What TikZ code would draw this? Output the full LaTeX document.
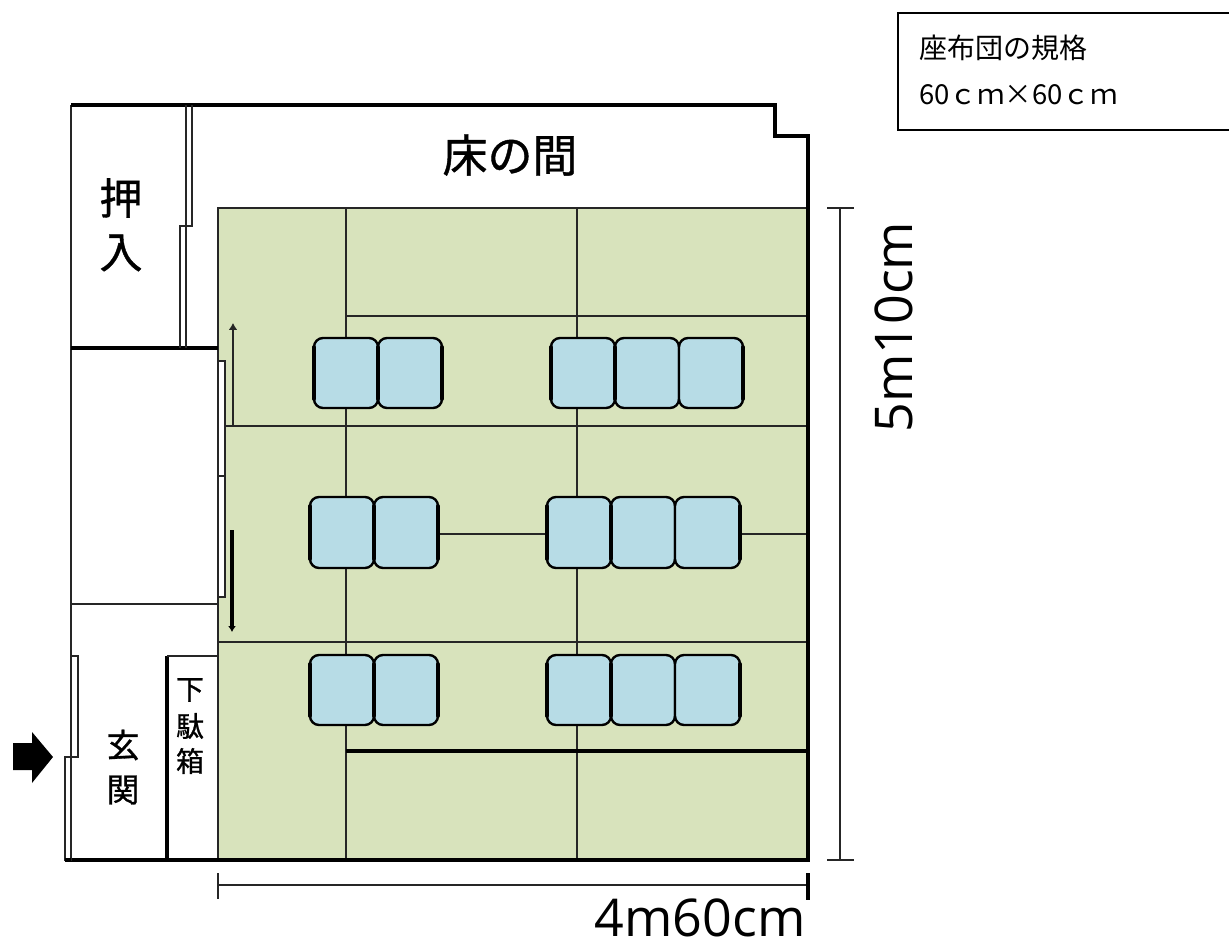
\documentclass[tikz,border=0pt]{standalone}
\usepackage{fontspec}
\setmainfont{Noto Sans CJK JP}
\newfontfamily\dimfont{Open Sans}
\newfontfamily\boldjp[FakeBold=0.9]{Noto Sans CJK JP}
\usetikzlibrary{arrows.meta}
\definecolor{mat}{HTML}{D8E3BC}
\definecolor{cushion}{HTML}{B7DCE6}
\definecolor{wall}{HTML}{262626}
\tikzset{
  x=1pt,y=-1pt,
  thin wall/.style={draw=wall,line width=2pt},
  heavy wall/.style={draw=black,line width=3.4pt},
  tatami/.style={draw=wall,line width=1.8pt},
  seat/.style={draw=black,fill=cushion,line width=2.4pt,rounded corners=9pt},
  seat edge/.style={draw=black,line width=3.6pt,line cap=round},
  dimline/.style={draw=wall,line width=1.7pt},
  room/.style={inner sep=0pt,font=\boldjp\fontsize{#1}{#1}\selectfont,text=black},
  legendtext/.style={inner sep=0pt,font=\fontsize{#1}{#1}\selectfont,text=black,anchor=base west},
  dimtext/.style={inner sep=0pt,font=\dimfont\fontsize{52}{52}\selectfont,text=black},
}
\newcommand{\seatrow}[3]{% y top, y bottom, list of left/right x
  \foreach \xa/\xb in {#3} {\draw[seat] (\xa,#1) rectangle (\xb,#2);}
}
\newcommand{\seatedges}[3]{% y top, y bottom, list of heavy vertical edges
  \foreach \xa in {#3} {\draw[seat edge] (\xa,#1+9) -- (\xa,#2-9);}
}
\begin{document}
\begin{tikzpicture}
\useasboundingbox (0,0) rectangle (1229,941);
% mat floor
\fill[mat] (218,208) rectangle (808,860);
\draw[thin wall] (808,208) -- (218,208) -- (218,860);
% tatami lines
\draw[tatami] (346,208) -- (346,860);
\draw[tatami] (577,208) -- (577,860);
\draw[tatami] (346,316) -- (808,316);
\draw[tatami] (224,426) -- (808,426);
\draw[tatami] (438,534) -- (808,534);
\draw[tatami] (218,642) -- (808,642);
\draw[heavy wall] (346,751) -- (808,751);
% outer walls
\draw[thin wall] (71,105) -- (71,860);
\draw[heavy wall] (71,105) -- (775,105) -- (775,136) -- (808,136) -- (808,860) -- (65,860);
\draw[heavy wall] (71,348) -- (218,348);
\draw[thin wall] (71,604) -- (218,604);
% closet door
\draw[thin wall] (186,105) -- (186,226);
\draw[thin wall] (192,105) -- (192,226) -- (179.5,226) -- (179.5,348);
\draw[thin wall] (186,226) -- (186,348);
% sliding door
\filldraw[fill=white,draw=wall,line width=2pt] (218,361) -- (224.5,361) -- (224.5,597) -- (218,597) -- cycle;
\draw[thin wall] (218,476) -- (224.5,476);
% entrance door
\filldraw[fill=white,draw=wall,line width=2pt] (71,656) -- (78,656) -- (78,757) -- (71,757) -- cycle;
\filldraw[fill=white,draw=wall,line width=2pt] (71,757) -- (64.5,757) -- (64.5,860) -- (71,860) -- cycle;
\draw[heavy wall] (71,860) -- (65,860);
% shoe box
\draw[heavy wall] (167,860) -- (167,656);
\draw[thin wall] (167,656) -- (218,656);
% door motion arrows
\coordinate (upA) at (233,426);
\coordinate (upB) at (233,323);
\coordinate (dnA) at (232,530);
\coordinate (dnB) at (232,632);
\draw[draw=wall,line width=1.8pt,-{Latex[length=7pt,width=9pt]}] (upA) -- (upB);
\draw[draw=black,line width=3.2pt,-{Latex[length=6pt,width=8pt]}] (dnA) -- (dnB);
% entrance arrow
\fill[black] (13,743) -- (32,743) -- (32,732) -- (53,757) -- (32,783) -- (32,770) -- (13,770) -- cycle;
% cushions
\seatrow{338}{408}{314/378,378/442,551/615,615/679,679/743}
\seatrow{497}{568}{310/374,374/438,547/611,611/675,675/740}
\seatrow{655}{725}{310/374,374/438,547/611,611/675,675/740}
\seatedges{338}{408}{314,378,442,551,615,743}
\seatedges{497}{568}{310,374,438,547,611,740}
\seatedges{655}{725}{310,374,438,547,611,740}
% dimensions
\draw[dimline] (840,208) -- (840,860);
\draw[dimline] (827,208) -- (854,208);
\draw[dimline] (827,860) -- (854,860);
\draw[dimline] (218,885) -- (808,885);
\draw[dimline] (218,873) -- (218,899);
\draw[heavy wall] (808,873) -- (808,900);
% legend
\draw[draw=black,line width=2.2pt] (1240,13) -- (898,13) -- (898,130) -- (1240,130);
% labels
\node[room=45,anchor=center] (toko) at (510,155) {床の間};
\node[room=43] (oshi1) at (121,198) {押};
\node[room=43] (oshi2) at (121,253) {入};
\node[room=33] (gen1) at (123,745) {玄};
\node[room=33] (gen2) at (123,790) {関};
\node[room=28] (geta1) at (190,690) {下};
\node[room=28] (geta2) at (190,726) {駄};
\node[room=28] (geta3) at (190,761) {箱};
\node[legendtext=28] (leg1) at (919,59) {座布団の規格};
\node[legendtext=27.5] (leg2) at (919,105) {60ｃｍ×60ｃｍ};
\node[dimtext,anchor=base] (dimh) at (700,936) {4m60cm};
\node[dimtext,anchor=base,rotate=90] (dimv) at (912,327) {5m10cm};
\end{tikzpicture}
\end{document}
